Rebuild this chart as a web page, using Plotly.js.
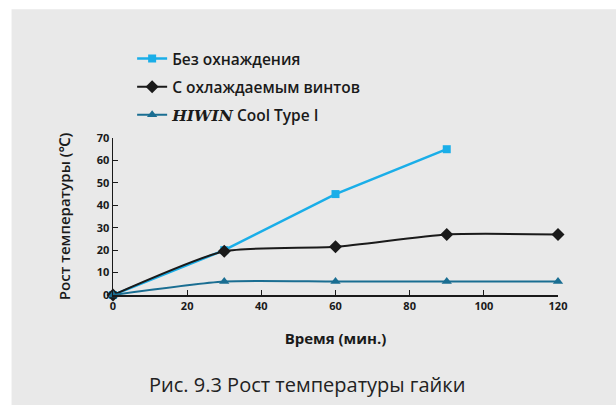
<!DOCTYPE html>
<html><head><meta charset="utf-8">
<script src="https://cdn.plot.ly/plotly-3.0.1.min.js"></script>
<style>body{margin:0;padding:0;background:#fff}#c{width:616px;height:405px}</style>
</head><body><div id="c"></div>
<script>
var seriesNames = ['Без охнаждения', 'С охлаждаемым винтов', '<span style="font-family:\'DejaVu Serif\',serif;font-weight:bold;font-style:italic">HIWIN</span> Cool Type I'];
var xNoCool = [0, 30, 60, 90];
var yNoCool = [0, 20, 45, 65];
var xCoolScrew = [0, 30, 60, 90, 120];
var yCoolScrew = [0, 19.5, 21.5, 27, 27];
var xHiwin = [0, 30, 60, 90, 120];
var yHiwin = [0, 6, 6, 6, 6];
var xTicks = [0, 20, 40, 60, 80, 100, 120];
var yTicks = [0, 10, 20, 30, 40, 50, 60, 70];

var font = '"Open Sans", "Noto Sans", sans-serif';
var traces = [
  {x: xNoCool, y: yNoCool, name: seriesNames[0], legendgroup: 'a', mode: 'lines+markers',
   line: {color: '#1aaee8', width: 2.5}, marker: {symbol: 'square', size: 8, color: '#1aaee8'}, cliponaxis: false},
  {x: xCoolScrew, y: yCoolScrew, name: seriesNames[1], legendgroup: 'b', mode: 'lines+markers',
   line: {color: '#1a1a1a', width: 2, shape: 'spline', smoothing: 0.6}, marker: {symbol: 'diamond', size: 10, color: '#1a1a1a'}, cliponaxis: false},
  {x: xHiwin, y: yHiwin, name: seriesNames[2], legendgroup: 'c', mode: 'lines+markers',
   line: {color: '#1a6e92', width: 2, shape: 'spline', smoothing: 0.6}, marker: {symbol: 'triangle-up', size: 9, color: '#1a6e92'}, cliponaxis: false}
];
var layout = {
  width: 616, height: 405,
  margin: {l: 113, r: 58, t: 138, b: 110},
  paper_bgcolor: '#e9e9e9', plot_bgcolor: 'rgba(0,0,0,0)',
  font: {family: font, color: '#1a1a1a'},
  showlegend: true,
  legend: {x: 0.043, y: 1.612, xanchor: 'left', yanchor: 'top', bgcolor: 'rgba(0,0,0,0)',
           font: {size: 15.5, family: font, weight: 600, color: '#1a1a1a'}, itemwidth: 30, tracegroupgap: 5},
  xaxis: {range: [0, 120], tickvals: xTicks, ticks: 'inside', ticklen: 5, tickcolor: '#1a1a1a',
          showline: true, linecolor: '#1a1a1a', linewidth: 1.5, showgrid: false, zeroline: false,
          tickfont: {size: 11, family: font, weight: 'bold', color: '#1a1a1a'},
          title: {text: 'Время (мин.)', font: {size: 15, family: font, weight: 'bold'}, standoff: 22}},
  yaxis: {range: [0, 70], tickvals: yTicks, ticks: 'inside', ticklen: 5, tickcolor: '#1a1a1a',
          showline: true, linecolor: '#1a1a1a', linewidth: 1.5, showgrid: false, zeroline: false,
          tickfont: {size: 11, family: font, weight: 'bold', color: '#1a1a1a'},
          title: {text: 'Рост температуры (℃)', font: {size: 15, family: font, weight: 600}, standoff: 22}},
  shapes: [
    {type: 'rect', xref: 'paper', yref: 'paper', x0: -0.26, x1: -0.228, y0: -0.71, y1: 1.9,
     fillcolor: '#ffffff', line: {width: 0}, layer: 'below'},
    {type: 'rect', xref: 'paper', yref: 'paper', x0: -0.26, x1: 1.14, y0: 1.82, y1: 1.9,
     fillcolor: '#ffffff', line: {width: 0}, layer: 'below'}
  ],
  annotations: [
    {text: 'Рис. 9.3 Рост температуры гайки', xref: 'paper', yref: 'paper', x: 0.436, y: -0.573,
     xanchor: 'center', yanchor: 'middle', showarrow: false, font: {size: 20, family: font, color: '#222'}}
  ]
};
Plotly.newPlot('c', traces, layout, {displayModeBar: false, staticPlot: true});
</script></body></html>
